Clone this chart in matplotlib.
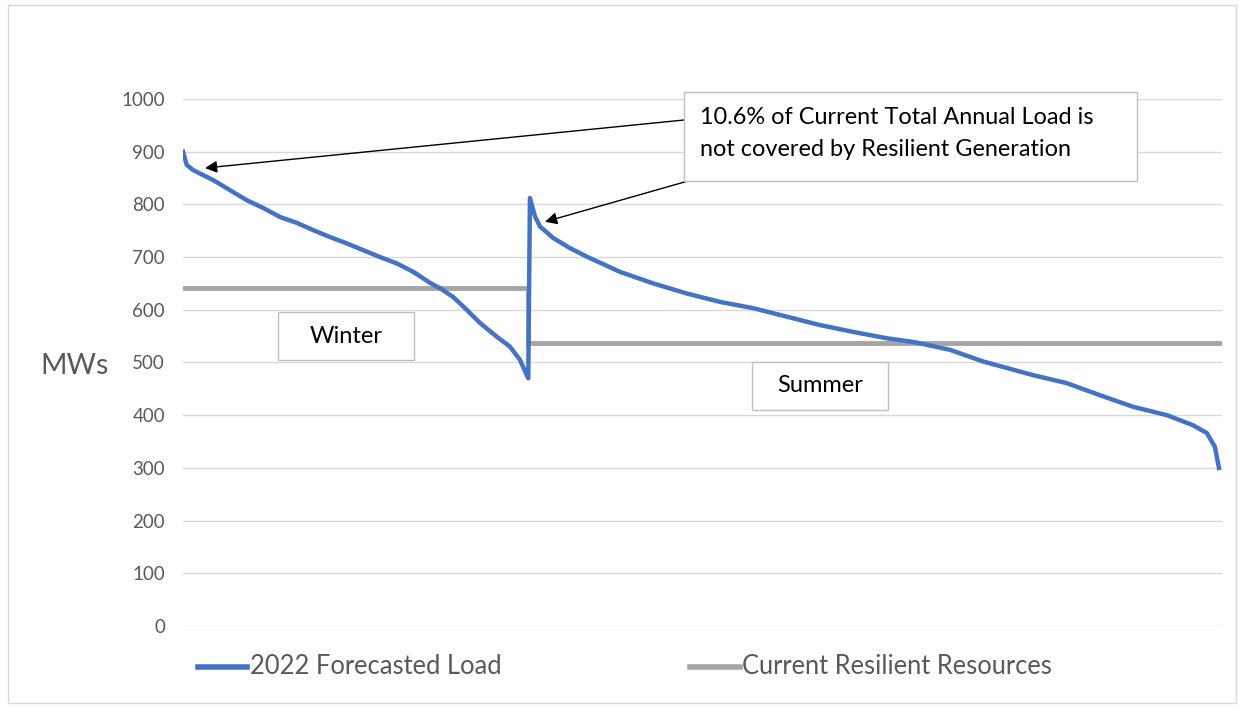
import matplotlib.pyplot as plt
from matplotlib.lines import Line2D
from matplotlib.patches import Rectangle

plt.rcParams['font.family'] = ['Lato', 'DejaVu Sans']

# load duration curve (hour of year, MW)
winter_hours = [0, 3, 31, 86, 255, 396, 537, 678, 818, 959, 1099, 1240, 1380, 1521, 1661, 1802,
                1942, 2083, 2167, 2279, 2392, 2504, 2645, 2757, 2841, 2911]
winter_load = [900, 897, 875, 865, 846, 827, 808, 793, 776, 765, 751, 738, 726, 713, 700, 688,
               672, 651, 641, 624, 600, 575, 549, 530, 505, 470]
summer_hours = [2925, 2968, 3010, 3122, 3263, 3403, 3684, 3965, 4246, 4527, 4808, 5090, 5370, 5651,
                5933, 6158, 6467, 6745, 7167, 7449, 7730, 8009, 8296, 8515, 8633, 8700, 8734]
summer_load = [812, 777, 758, 736, 717, 701, 672, 650, 631, 615, 603, 587, 571, 558,
               546, 539, 524, 502, 476, 461, 438, 416, 400, 381, 366, 340, 300]

# resilient resources, stepped by season
res_hours = [0, 2911, 2911, 8760]
res_mw = [642, 642, 537, 537]

load_hours = winter_hours + summer_hours
load_mw = winter_load + summer_load

yticks = list(range(0, 1001, 100))

fig = plt.figure(figsize=(12.39, 7.08), dpi=100)
ax = fig.add_axes([0.1477, 0.1158, 0.8386, 0.7444])

ax.plot(res_hours, res_mw, color='#a5a5a5', lw=3.5, solid_joinstyle='miter', zorder=2)
ax.plot(load_hours, load_mw, color='#4472c4', lw=3.2, zorder=3)

ax.set_xlim(0, 8760)
ax.set_ylim(0, 1000)
ax.set_yticks(yticks)
ax.set_xticks([])
ax.grid(axis='y', color='#d9d9d9', lw=1)
ax.set_axisbelow(True)
for s in ax.spines.values():
    s.set_visible(False)
ax.tick_params(axis='y', length=0, labelsize=13.5, labelcolor='#595959', pad=13)

fig.text(0.0605, 0.483, 'MWs', fontsize=20.5, color='#595959', ha='center', va='center')

# annotation box and arrows
fig.add_artist(Rectangle((684 / 1239, 1 - 181 / 708), 453 / 1239, 89 / 708, transform=fig.transFigure,
                         facecolor='white', edgecolor='#bfbfbf', lw=1, zorder=5))
fig.text(700 / 1239, 1 - 118 / 708, '10.6% of Current Total Annual Load is', fontsize=16.9,
         color='black', va='center', zorder=6)
fig.text(700 / 1239, 1 - 150 / 708, 'not covered by Resilient Generation', fontsize=16.9,
         color='black', va='center', zorder=6)
ax.annotate('', xy=(185, 869), xycoords='data', xytext=(684 / 1239, 1 - 120 / 708),
            textcoords='figure fraction',
            arrowprops=dict(arrowstyle='-|>', color='black', lw=1, mutation_scale=18, shrinkA=0, shrinkB=0))
ax.annotate('', xy=(3052, 767), xycoords='data', xytext=(688 / 1239, 1 - 181 / 708),
            textcoords='figure fraction',
            arrowprops=dict(arrowstyle='-|>', color='black', lw=1, mutation_scale=18, shrinkA=0, shrinkB=0))

# season labels
for x0, y0, label in [(278, 360, 'Winter'), (752, 410, 'Summer')]:
    fig.add_artist(Rectangle((x0 / 1239, 1 - y0 / 708), 136 / 1239, 48 / 708, transform=fig.transFigure,
                             facecolor='white', edgecolor='#bfbfbf', lw=1, zorder=5))
    fig.text((x0 + 68) / 1239, 1 - (y0 - 24) / 708, label, fontsize=17, color='black',
             ha='center', va='center', zorder=6)

# legend
fig.add_artist(Line2D([198 / 1239, 247 / 1239], [1 - 667 / 708] * 2, color='#4472c4', lw=4,
                      transform=fig.transFigure))
fig.text(250 / 1239, 1 - 667 / 708, '2022 Forecasted Load', fontsize=18.4, color='#595959', va='center')
fig.add_artist(Line2D([690 / 1239, 740 / 1239], [1 - 667 / 708] * 2, color='#a5a5a5', lw=4,
                      transform=fig.transFigure))
fig.text(742 / 1239, 1 - 667 / 708, 'Current Resilient Resources', fontsize=18.4, color='#595959', va='center')

# outer frame
fig.add_artist(Rectangle((8 / 1239, 5 / 708), 1228 / 1239, 698 / 708, transform=fig.transFigure,
                         facecolor='none', edgecolor='#d9d9d9', lw=1))

fig.savefig('out.png', dpi=100)
